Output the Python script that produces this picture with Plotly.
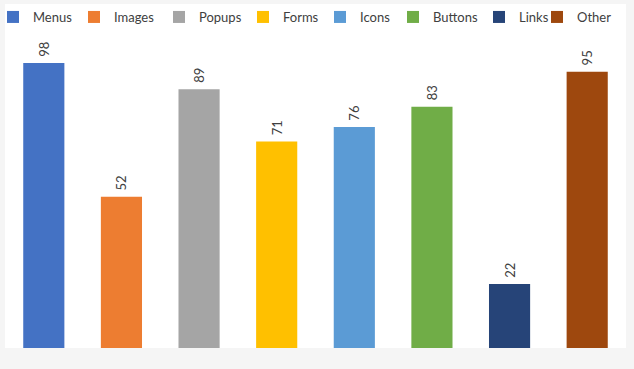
import plotly.graph_objects as go

categories = ["Menus", "Images", "Popups", "Forms", "Icons", "Buttons", "Links", "Other"]
values = [98, 52, 89, 71, 76, 83, 22, 95]
colors = ["#4472C4", "#ED7D31", "#A5A5A5", "#FFC000", "#5B9BD5", "#70AD47", "#264478", "#9E480E"]
legend_text_x = [33, 114, 199, 283, 360, 433, 519, 577]  # pixel x where legend text starts

W, H = 634, 369
ml, mr, mt, mb = 5, 8, 4, 21
pw = W - ml - mr
ph = H - mt - mb
FONT = "Lato, Open Sans, sans-serif"

fig = go.Figure()
layout_legends = {}
for i, (c, v, col) in enumerate(zip(categories, values, colors)):
    lname = "legend" if i == 0 else f"legend{i+1}"
    fig.add_trace(go.Bar(
        x=[c], y=[v], name=c, marker=dict(color=col, line=dict(width=0)),
        width=0.53, text=["\u00a0" + str(v)], textposition="outside", textangle=-90,
        textfont=dict(family=FONT, size=13, color="#404040"),
        cliponaxis=False, legend=lname, showlegend=True,
    ))
    layout_legends[lname] = dict(
        xref="paper", yref="paper",
        x=(legend_text_x[i] - 40 - ml) / pw, y=(H - mb - 17) / ph, xanchor="left", yanchor="middle",
        orientation="h", bgcolor="rgba(0,0,0,0)",
        font=dict(family=FONT, size=13, color="#404040"),
        itemwidth=30,
    )

fig.update_layout(
    width=W, height=H,
    margin=dict(l=ml, r=mr, t=mt, b=mb, autoexpand=False),
    paper_bgcolor="#f5f5f5", plot_bgcolor="#ffffff",
    barmode="overlay",
    xaxis=dict(showticklabels=False, showgrid=False, zeroline=False, showline=False, ticks="",
               categoryorder="array", categoryarray=categories),
    yaxis=dict(range=[0, ph / 2.908], showticklabels=False, showgrid=False, zeroline=False, showline=False),
    **layout_legends,
)

fig.write_html("out.html")
